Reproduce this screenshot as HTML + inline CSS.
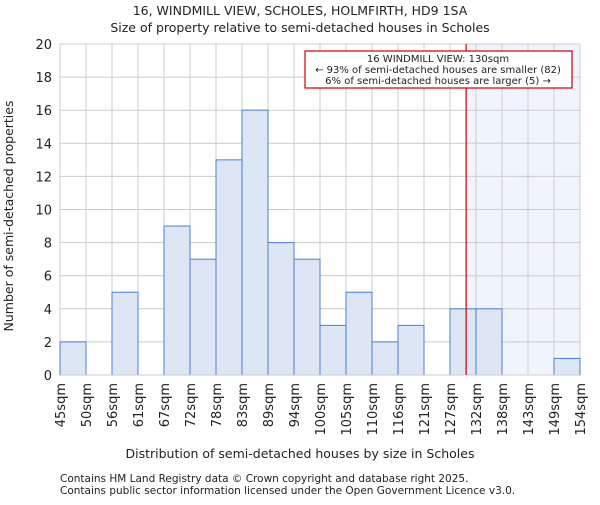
<!DOCTYPE html>
<html><head><meta charset="utf-8"><style>
body{margin:0;background:#fff;}
svg text{font-family:"DejaVu Sans","Liberation Sans",sans-serif;fill:#222;}
</style></head><body>
<svg id="chart" width="600" height="500" xmlns="http://www.w3.org/2000/svg">
<text x="300" y="15" text-anchor="middle" font-size="12.5">16, WINDMILL VIEW, SCHOLES, HOLMFIRTH, HD9 1SA</text>
<text x="300" y="32" text-anchor="middle" font-size="12.5">Size of property relative to semi-detached houses in Scholes</text>
<g id="plot"></g>
<text x="300" y="458" text-anchor="middle" font-size="12.5">Distribution of semi-detached houses by size in Scholes</text>
<text transform="translate(13,216) rotate(-90)" text-anchor="middle" font-size="12.5">Number of semi-detached properties</text>
<text x="60" y="482" font-size="10.5" fill="#444">Contains HM Land Registry data © Crown copyright and database right 2025.</text>
<text x="60" y="494" font-size="10.5" fill="#444">Contains public sector information licensed under the Open Government Licence v3.0.</text>
</svg>
<script>
const labels=["45sqm","50sqm","56sqm","61sqm","67sqm","72sqm","78sqm","83sqm","89sqm","94sqm","100sqm","105sqm","110sqm","116sqm","121sqm","127sqm","132sqm","138sqm","143sqm","149sqm","154sqm"];
const counts=[2,0,5,0,9,7,13,16,8,7,3,5,2,3,0,4,4,0,0,1];
const yTicks=[0,2,4,6,8,10,12,14,16,18,20];
const markerBin=15.62;
const L=60,R=580,T=44,B=375,yMax=20;
const n=counts.length,bw=(R-L)/n;
const xs=i=>L+i*bw, ys=v=>B-(v/yMax)*(B-T);
const NS="http://www.w3.org/2000/svg",g=document.getElementById('plot');
function mk(t,a){const e=document.createElementNS(NS,t);for(const k in a)e.setAttribute(k,a[k]);g.appendChild(e);return e;}
const mx=xs(markerBin);
let sh=mk('rect',{x:mx,y:T,width:R-mx,height:B-T,fill:'#f0f4fc'});


yTicks.forEach(v=>{let l=mk('line',{x1:L,x2:R,y1:ys(v),y2:ys(v),stroke:'#ccc','stroke-width':1});


let t=mk('text',{x:L-8,y:ys(v)+5,'text-anchor':'end','font-size':13});t.textContent=v;

});
labels.forEach((s,i)=>{let l=mk('line',{x1:xs(i),x2:xs(i),y1:T,y2:B,stroke:'#ccc','stroke-width':1});


let t=mk('text',{transform:`translate(${xs(i)+5},383) rotate(-90)`,'text-anchor':'end','font-size':13});t.textContent=s;

});
counts.forEach((c,i)=>{if(!c)return;let r=mk('rect',{x:xs(i),y:ys(c),width:bw,height:B-ys(c),fill:'#dce6f4',stroke:'#4a7fd4','stroke-width':1});

});
let ax=mk('line',{x1:L,x2:R,y1:B,y2:B,stroke:'#ccc'});


let ml=mk('line',{x1:mx,x2:mx,y1:T,y2:B,stroke:'#cc0000','stroke-width':1.2});


let box=mk('rect',{x:305,y:51,width:267,height:37,fill:'#fff',stroke:'#cc0000','stroke-width':1.2});


["16 WINDMILL VIEW: 130sqm","← 93% of semi-detached houses are smaller (82)","6% of semi-detached houses are larger (5) →"].forEach((s,i)=>{let t=mk('text',{x:438,y:62+i*11,'text-anchor':'middle','font-size':10});t.textContent=s;

});
</script>
</body></html>
